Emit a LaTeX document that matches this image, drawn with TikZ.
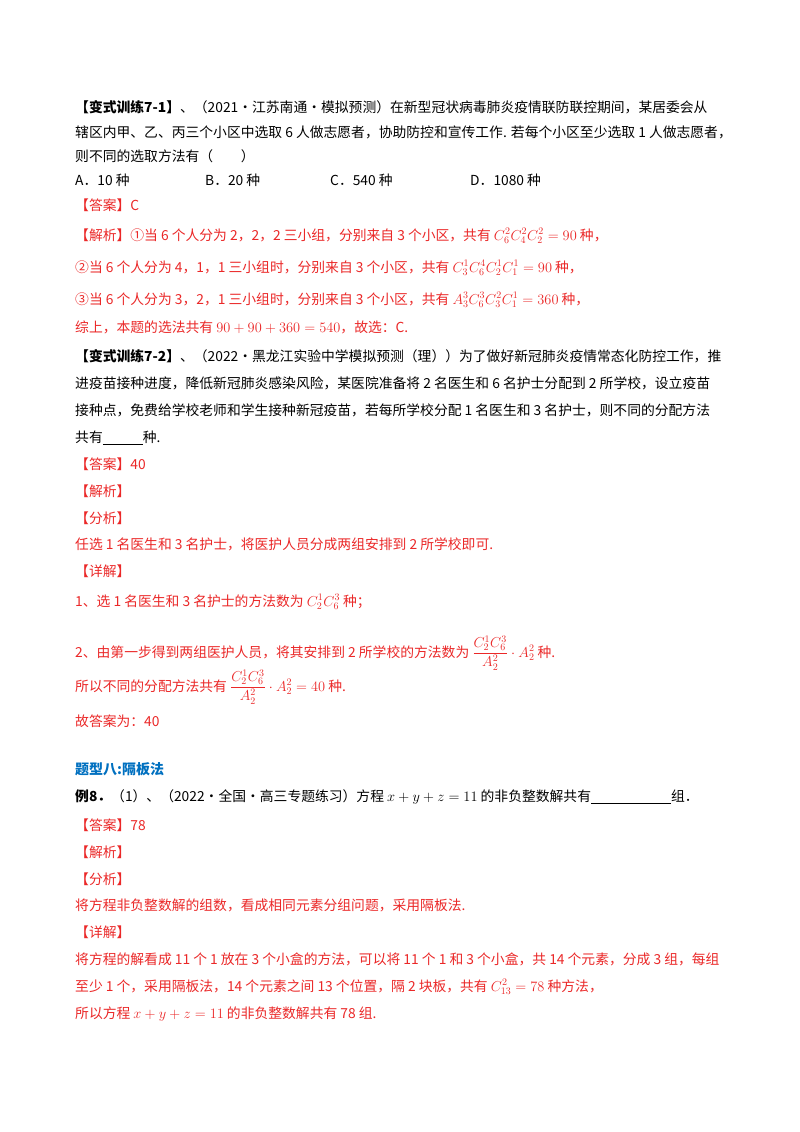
\documentclass[tikz,border=0pt]{standalone}
\usepackage{fontspec}
\usepackage{amsmath}
\setmainfont{Noto Sans CJK SC}
\definecolor{rd}{RGB}{235,40,40}
\definecolor{bl}{RGB}{0,112,192}
\tikzset{ln/.style={anchor=base west,inner sep=0pt,font=\fontsize{13.8}{16}\selectfont},
 r/.style={ln,text=rd}}
\begin{document}
\begin{tikzpicture}[x=1pt,y=1pt]
\useasboundingbox[fill=white] (0,0) rectangle (800,-1132);
\node[ln] (l1) at (75,-112) {\textbf{【变式训练7-1】}、（2021·江苏南通·模拟预测）在新型冠状病毒肺炎疫情联防联控期间，某居委会从};
\node[ln] (l2) at (75,-137) {辖区内甲、乙、丙三个小区中选取 6 人做志愿者，协助防控和宣传工作. 若每个小区至少选取 1 人做志愿者，};
\node[ln] (l3) at (75,-161) {则不同的选取方法有（\hspace{2em}）};
\node[ln] (oa) at (75,-185) {A．10 种};
\node[ln] (ob) at (205,-185) {B．20 种};
\node[ln] (oc) at (330,-185) {C．540 种};
\node[ln] (od) at (470,-185) {D．1080 种};
\node[r] (a1) at (75,-210) {【答案】C};
\node[r] (j1) at (75,-240) {【解析】①当 6 个人分为 2，2，2 三小组，分别来自 3 个小区，共有 $C_6^2C_4^2C_2^2=90$ 种，};
\node[r] (j2) at (75,-272) {②当 6 个人分为 4，1，1 三小组时，分别来自 3 个小区，共有 $C_3^1C_6^4C_2^1C_1^1=90$ 种，};
\node[r] (j3) at (75,-304) {③当 6 个人分为 3，2，1 三小组时，分别来自 3 个小区，共有 $A_3^3C_6^3C_3^2C_1^1=360$ 种，};
\node[r] (j4) at (75,-332) {综上，本题的选法共有 $90+90+360=540$，故选：C.};
\node[ln] (m1) at (75,-361) {\textbf{【变式训练7-2】}、（2022·黑龙江实验中学模拟预测（理））为了做好新冠肺炎疫情常态化防控工作，推};
\node[ln] (m2) at (75,-388) {进疫苗接种进度，降低新冠肺炎感染风险，某医院准备将 2 名医生和 6 名护士分配到 2 所学校，设立疫苗};
\node[ln] (m3) at (75,-415) {接种点，免费给学校老师和学生接种新冠疫苗，若每所学校分配 1 名医生和 3 名护士，则不同的分配方法};
\node[ln] (m4) at (75,-442) {共有\underline{\hspace{40pt}}种.};
\node[r] (a2) at (75,-469) {【答案】40};
\node[r] (b2) at (75,-496) {【解析】};
\node[r] (c2) at (75,-523) {【分析】};
\node[r] (d2) at (75,-549) {任选 1 名医生和 3 名护士，将医护人员分成两组安排到 2 所学校即可.};
\node[r] (e2) at (75,-576) {【详解】};
\node[r] (f2) at (75,-606) {1、选 1 名医生和 3 名护士的方法数为 $C_2^1C_6^3$ 种；};
\node[r] (g2) at (75,-657) {2、由第一步得到两组医护人员，将其安排到 2 所学校的方法数为 $\dfrac{C_2^1C_6^3}{A_2^2}\cdot A_2^2$ 种.};
\node[r] (h2) at (75,-691) {所以不同的分配方法共有 $\dfrac{C_2^1C_6^3}{A_2^2}\cdot A_2^2=40$ 种.};
\node[r] (i2) at (75,-726) {故答案为：40};
\node[ln,text=bl,font=\fontsize{14}{16}\bfseries\selectfont] (t8) at (75,-774) {题型八:隔板法};
\node[ln] (e8) at (75,-801) {\textbf{例8．}（1）、（2022·全国·高三专题练习）方程 $x+y+z=11$ 的非负整数解共有\underline{\hspace{80pt}}组．};
\node[r] (a8) at (75,-830) {【答案】78};
\node[r] (b8) at (75,-857) {【解析】};
\node[r] (c8) at (75,-884) {【分析】};
\node[r] (d8) at (75,-910) {将方程非负整数解的组数，看成相同元素分组问题，采用隔板法.};
\node[r] (e8b) at (75,-937) {【详解】};
\node[r] (f8) at (75,-964) {将方程的解看成 11 个 1 放在 3 个小盒的方法，可以将 11 个 1 和 3 个小盒，共 14 个元素，分成 3 组，每组};
\node[r] (g8) at (75,-991) {至少 1 个，采用隔板法，14 个元素之间 13 个位置，隔 2 块板，共有 $C_{13}^2=78$ 种方法，};
\node[r] (h8) at (75,-1018) {所以方程 $x+y+z=11$ 的非负整数解共有 78 组.};
\end{tikzpicture}
\end{document}
